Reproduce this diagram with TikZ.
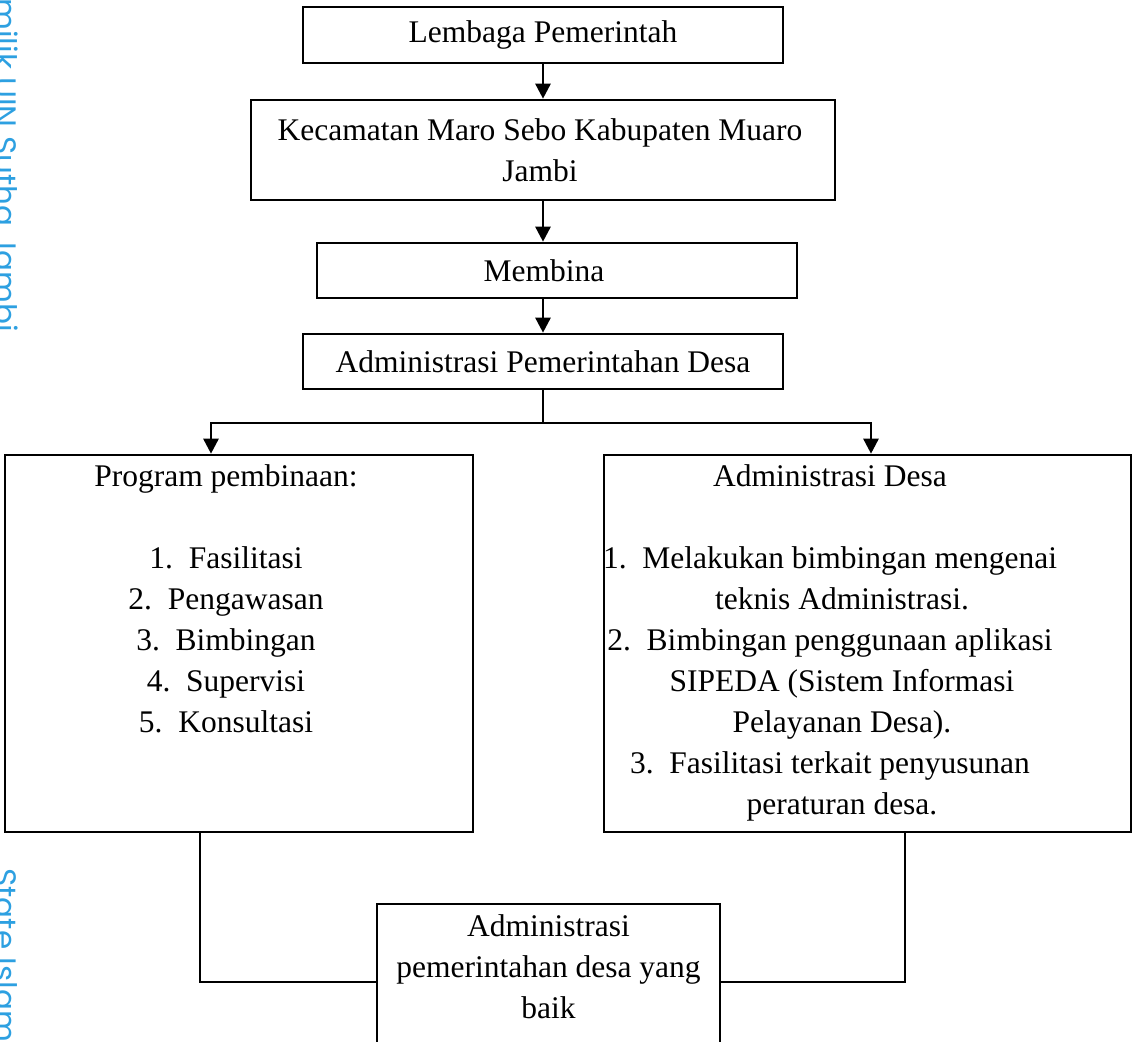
\documentclass[tikz,border=0pt]{standalone}
\usepackage{fontspec}
\setmainfont{Liberation Serif}
\newfontfamily\wmfont{Poppins}
\usetikzlibrary{arrows.meta}
\definecolor{wmblue}{RGB}{45,160,225}
\begin{document}
\begin{tikzpicture}[x=0.5pt,y=-0.5pt,
  box/.style={draw, line width=1.3pt, rectangle, inner sep=0pt},
  lbl/.style={align=center, inner sep=0pt, font=\fontsize{15.75}{20.5}\selectfont},
  conn/.style={line width=1.3pt},
  arr/.style={line width=1.3pt, -{Triangle[width=7.5pt,length=7.5pt]}},
  wm/.style={text=wmblue, font=\wmfont\fontsize{15.5}{18}\selectfont, rotate=-90, anchor=base west, inner sep=0pt}]
\useasboundingbox (0,0) rectangle (1146,1042);
\clip (0,0) rectangle (1146,1042);
\fill[white] (0,0) rectangle (1146,1042);
% watermark
\node[wm] (wm1) at (-5,-2) {milik UIN Sutha Jambi};
\node[wm] (wm2) at (-5,868) {State Islamic};
% boxes
\node[box, minimum width=240pt, minimum height=28pt] (b1) at (543,35) {};
\node[lbl] (t1) at (543,35) {Lembaga Pemerintah};
\node[box, minimum width=292pt, minimum height=50pt] (b2) at (543,150) {};
\node[lbl] (t2) at (540,150) {Kecamatan Maro Sebo Kabupaten Muaro\\Jambi};
\node[box, minimum width=240pt, minimum height=27.5pt] (b3) at (557,270.5) {};
\node[lbl] (t3) at (544,270.5) {Membina};
\node[box, minimum width=240pt, minimum height=27.5pt] (b4) at (543,361.5) {};
\node[lbl] (t4) at (543,361.5) {Administrasi Pemerintahan Desa};
\node[box, minimum width=234pt, minimum height=188.5pt] (L) at (239,643.5) {};
\node[lbl, anchor=north] (tL) at (226,464) {Program pembinaan:\\[20.5pt]1.\ \ Fasilitasi\\2.\ \ Pengawasan\\3.\ \ Bimbingan\\4.\ \ Supervisi\\5.\ \ Konsultasi};
\node[box, minimum width=263.5pt, minimum height=188.5pt] (R) at (867.5,643.5) {};
\node[lbl, anchor=north] (tR) at (830,464) {Administrasi Desa\\[20.5pt]1.\ \ Melakukan bimbingan mengenai\\\hspace*{12pt}teknis Administrasi.\\2.\ \ Bimbingan penggunaan aplikasi\\\hspace*{12pt}SIPEDA (Sistem Informasi\\\hspace*{12pt}Pelayanan Desa).\\3.\ \ Fasilitasi terkait penyusunan\\\hspace*{12pt}peraturan desa.};
\node[box, minimum width=171.5pt, minimum height=93pt] (bot) at (548.5,997) {};
\node[lbl, anchor=north] (tb) at (548.5,914) {Administrasi\\pemerintahan desa yang\\baik};
% helper coordinates
\coordinate (j) at (543,423);
\coordinate (lx) at (211,0);
\coordinate (rx) at (871,0);
\coordinate (lb) at (200,0);
\coordinate (rb) at (905,0);
\coordinate (yb) at (0,982);
% connectors
\draw[arr] (b1.south) -- (b2.north);
\draw[arr] (b2.south) -- (b2.south |- b3.north);
\draw[arr] (b2.south |- b3.south) -- (b4.north);
\draw[conn] (b4.south) -- (j);
\draw[arr] (j) -| (L.north -| lx);
\draw[arr] (j) -| (R.north -| rx);
\draw[conn] (L.south -| lb) |- (bot.west |- yb);
\draw[conn] (R.south -| rb) |- (bot.east |- yb);
\end{tikzpicture}
\end{document}
